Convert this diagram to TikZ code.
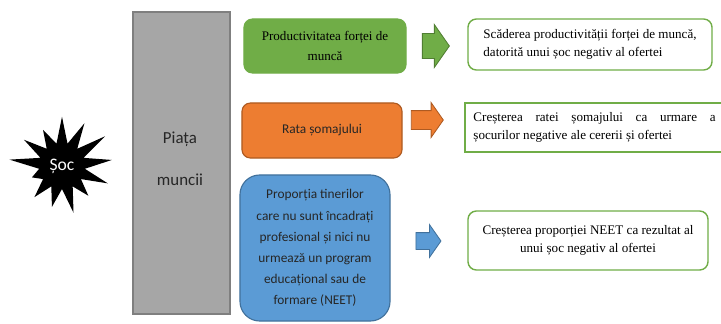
\documentclass[tikz,border=0pt]{standalone}
\usepackage{fontspec}
\setmainfont{Liberation Serif}
\newfontfamily\calibri{Carlito}
\usetikzlibrary{shapes.symbols,shapes.arrows}

\definecolor{verde}{HTML}{70AD47}
\definecolor{verdeinchis}{HTML}{507E32}
\definecolor{portocaliu}{HTML}{ED7D31}
\definecolor{portocaliuinchis}{HTML}{AE5A21}
\definecolor{albastru}{HTML}{5B9BD5}
\definecolor{albastruinchis}{HTML}{41719C}
\definecolor{gri}{HTML}{A6A6A6}
\definecolor{griinchis}{HTML}{7F7F7F}
\definecolor{textinchis}{HTML}{262626}

\begin{document}
\begin{tikzpicture}[
    x=0.025cm, y=-0.025cm,
    every node/.style={align=center, inner sep=0pt},
    cutie/.style={rounded corners=6pt, line width=0.8pt},
    sans/.style={font=\calibri\fontsize{9.5}{15}\selectfont, text=textinchis},
    rezultat/.style={draw=verde, fill=white, line width=1pt, rounded corners=6pt, font=\fontsize{9.3}{13}\selectfont},
    sageata/.style={single arrow, single arrow tip angle=110, line width=0.6pt}
]
\useasboundingbox (0,0) rectangle (721,323);

% Socul si piata muncii
\node[starburst, starburst points=13, starburst point height=0.8cm, random starburst=37,
      fill=black, minimum width=2.75cm, minimum height=2.75cm,
      font=\calibri\fontsize{12.5}{15}\selectfont, text=white] (soc) at (62,166) {Șoc};
\node[draw=griinchis, fill=gri, line width=0.8pt, minimum width=2.425cm, minimum height=7.55cm] (piata) at (181.5,163) {};
\node[font=\calibri\fontsize{12}{30}\selectfont, text=textinchis] (piatatext) at (180,159) {Piața\\muncii};

% Indicatorii
\node[cutie, fill=verde, draw=verde, minimum width=4.05cm, minimum height=1.35cm,
      font=\fontsize{9.3}{14.7}\selectfont] (prod) at (325,46) {Productivitatea forței de\\muncă};
\node[cutie, sans, fill=portocaliu, draw=portocaliuinchis, minimum width=4.0cm, minimum height=1.375cm] (rata) at (322,130.5) {Rata șomajului};
\node[cutie, sans, rounded corners=14pt, fill=albastru, draw=albastruinchis, minimum width=3.75cm, minimum height=3.65cm] (neet) at (315,248)
    {Proporția tinerilor\\care nu sunt încadrați\\profesional și nici nu\\urmează un program\\educațional sau de\\formare (NEET)};

% Sagetile
\node[sageata, fill=verde, draw=verdeinchis, minimum height=0.675cm, inner ysep=0.3cm, single arrow head extend=0.225cm] (s1) at (431.5,46) {};
\node[sageata, fill=portocaliu, draw=portocaliuinchis, minimum height=0.8cm, inner ysep=0.225cm, single arrow head extend=0.2cm] (s2) at (424,120) {};
\node[sageata, fill=albastru, draw=albastruinchis, minimum height=0.625cm, inner ysep=0.2cm, single arrow head extend=0.2cm] (s3) at (425.5,241) {};

% Efectele
\node[rezultat, minimum width=6.1cm, minimum height=1.275cm, align=left] (ef1) at (590,44.5)
    {Scăderea productivității forței de muncă,\\datorită unui șoc negativ al ofertei};
\node[rezultat, rounded corners=0pt, minimum width=6.475cm, minimum height=1.225cm, text width=6.05cm, align=justify] (ef2) at (594.5,127.5)
    {Creșterea ratei șomajului ca urmare a\linebreak șocurilor negative ale cererii și ofertei};
\node[rezultat, minimum width=6.0cm, minimum height=1.475cm] (ef3) at (588,240.5)
    {Creșterea proporției NEET ca rezultat al\\unui șoc negativ al ofertei};

\end{tikzpicture}
\end{document}
